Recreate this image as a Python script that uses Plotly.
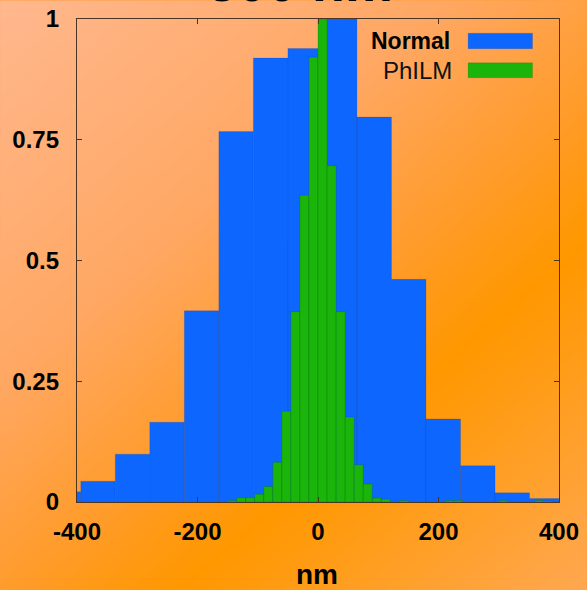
import base64
import struct
import zlib

import numpy as np
import plotly.graph_objects as go

# ---------------- data ----------------
normal_centers = [-422.4, -365.1, -307.8, -250.5, -193.2, -135.9, -78.6, -21.3,
                  36.0, 93.3, 150.6, 207.9, 265.2, 322.5, 379.8]
normal_values = [0.021, 0.043, 0.099, 0.165, 0.396, 0.767, 0.919, 0.939,
                 1.0, 0.797, 0.461, 0.172, 0.075, 0.019, 0.007]
normal_width = 57.3

philm_centers = [-142.5, -127.5, -112.5, -97.5, -82.5, -67.5, -52.5, -37.5, -22.5,
                 -7.5, 7.5, 22.5, 37.5, 52.5, 67.5, 82.5, 97.5, 112.5,
                 142.5, 217.5, 232.5, 307.5, 367.5, 382.5]
philm_values = [0.003, 0.009, 0.009, 0.016, 0.032, 0.082, 0.188, 0.394, 0.635,
                0.921, 1.0, 0.696, 0.394, 0.176, 0.077, 0.037, 0.008, 0.006,
                0.003, 0.003, 0.003, 0.003, 0.003, 0.002]
philm_width = 15

x_ticks = [-400, -200, 0, 200, 400]
x_labels = ["-400", "-200", "0", "200", "400"]
y_ticks = [0, 0.25, 0.5, 0.75, 1]
y_labels = ["0", "0.25", "0.5", "0.75", "1"]

title_text = "500 nm"
x_title = "nm"
legend_names = ["Normal", "PhILM"]

# ---------------- styling ----------------
W, H = 587, 590
ML, MR, MT, MB = 77, 27.5, 18.5, 88
PW = W - ML - MR
PH = H - MT - MB
BLUE = "#0D67FF"
GREEN = "#1AB40A"
FRAME = "#4a3523"
FONT = "Liberation Sans"


def px(xp):
    return (xp - ML) / PW


def py(yp):
    return (H - MB - yp) / PH


def gradient_png():
    xs = np.arange(W)[None, :]
    ys = np.arange(H)[:, None]
    t = (0.857 * xs + ys) / (0.857 * W + H)
    stops_t = [0.0, 0.35, 0.55, 0.68, 1.0]
    stops_c = [(255, 184, 142), (255, 168, 100), (255, 156, 42), (255, 152, 0), (255, 168, 82)]
    img = np.zeros((H, W, 3), dtype=np.uint8)
    for ch in range(3):
        img[:, :, ch] = np.interp(t, stops_t, [c[ch] for c in stops_c]).astype(np.uint8)
    raw = b"".join(b"\x00" + img[r].tobytes() for r in range(H))

    def chunk(tag, data):
        return (struct.pack(">I", len(data)) + tag + data +
                struct.pack(">I", zlib.crc32(tag + data) & 0xFFFFFFFF))

    png = (b"\x89PNG\r\n\x1a\n" +
           chunk(b"IHDR", struct.pack(">IIBBBBB", W, H, 8, 2, 0, 0, 0)) +
           chunk(b"IDAT", zlib.compress(raw, 9)) + chunk(b"IEND", b""))
    return "data:image/png;base64," + base64.b64encode(png).decode()


fig = go.Figure()
fig.add_trace(go.Bar(x=normal_centers, y=normal_values, width=normal_width,
                     marker=dict(color=BLUE, line=dict(color="rgba(0,40,120,0.25)", width=0.6)),
                     name=legend_names[0], showlegend=False))
fig.add_trace(go.Bar(x=philm_centers, y=philm_values, width=philm_width,
                     marker=dict(color=GREEN, line=dict(color="rgba(0,70,0,0.3)", width=0.6)),
                     name=legend_names[1], showlegend=False))

axis_common = dict(showline=True, linecolor=FRAME, linewidth=1.3, mirror="allticks",
                   ticks="inside", ticklen=5, tickcolor=FRAME, tickwidth=1,
                   showgrid=False, zeroline=False, automargin=False,
                   tickfont=dict(family=FONT, size=24, color="black", weight=700))

fig.update_xaxes(range=[-400, 400], tickvals=x_ticks, ticktext=x_labels,
                 ticklabelstandoff=8, **axis_common)
fig.update_yaxes(range=[0, 1], tickvals=y_ticks, ticktext=y_labels,
                 ticklabelstandoff=12, **axis_common)

annotations = [
    dict(text=title_text, x=px(300.5), y=py(-19), xref="paper", yref="paper",
         xanchor="center", yanchor="middle", showarrow=False,
         font=dict(family=FONT, size=54, color="black", weight=700)),
    dict(text=x_title, x=px(317.5), y=py(575), xref="paper", yref="paper",
         xanchor="center", yanchor="middle", showarrow=False,
         font=dict(family=FONT, size=28, color="black", weight=700)),
    dict(text=legend_names[0], x=px(452), y=py(40.5), xref="paper", yref="paper",
         xanchor="right", yanchor="middle", showarrow=False,
         font=dict(family=FONT, size=23, color="black", weight=700)),
    dict(text=legend_names[1], x=px(454), y=py(70), xref="paper", yref="paper",
         xanchor="right", yanchor="middle", showarrow=False,
         font=dict(family=FONT, size=24, color="#111", weight=400)),
]

shapes = [
    dict(type="rect", xref="paper", yref="paper", x0=px(468.5), x1=px(533),
         y0=py(48.3), y1=py(32.7), fillcolor=BLUE, line=dict(width=0.5, color="rgba(0,0,0,0.2)")),
    dict(type="rect", xref="paper", yref="paper", x0=px(468.5), x1=px(533),
         y0=py(77.3), y1=py(62.3), fillcolor=GREEN, line=dict(width=0.5, color="rgba(0,0,0,0.2)")),
]

fig.update_layout(
    width=W, height=H,
    margin=dict(l=ML, r=MR, t=MT, b=MB, pad=0, autoexpand=False),
    barmode="overlay",
    paper_bgcolor="#FFA040",
    plot_bgcolor="rgba(0,0,0,0)",
    annotations=annotations,
    shapes=shapes,
    images=[dict(source=gradient_png(), xref="paper", yref="paper",
                 x=px(0), y=py(0), sizex=W / PW, sizey=H / PH,
                 xanchor="left", yanchor="top", sizing="stretch", layer="below")],
)

fig.write_html("out.html")
